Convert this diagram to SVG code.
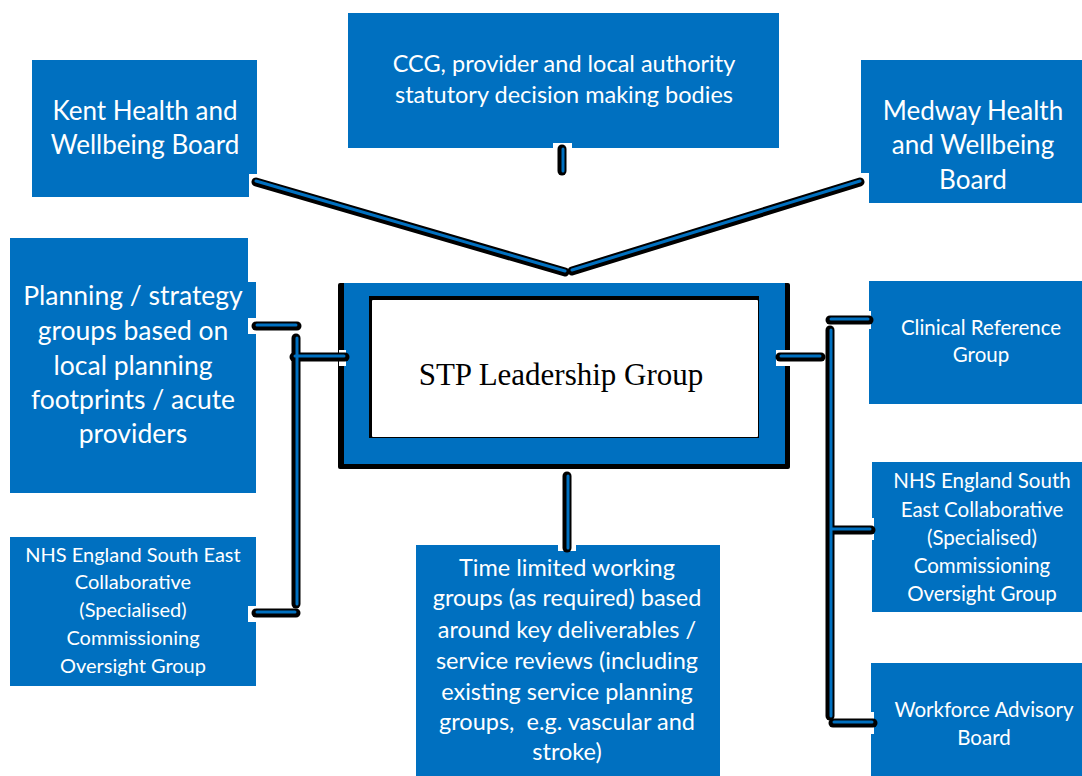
<svg xmlns="http://www.w3.org/2000/svg" width="1082" height="776" viewBox="0 0 1082 776">
<style>
.box{fill:#0070C0}
.t{font-family:Lato,"Liberation Sans",sans-serif;fill:#fff;text-anchor:middle}
.o{stroke:#000;stroke-width:9;stroke-linecap:round;fill:none}
.i{stroke:#0070C0;stroke-width:3;stroke-linecap:round;fill:none}
.w{fill:#fff}
</style>
<rect width="1082" height="776" fill="#fff"/>
<g id="kent">
<rect class="box" x="32" y="60" width="225" height="137"/>
<text class="t" font-size="26"><tspan x="145" y="120">Kent Health and</tspan><tspan x="145" y="154">Wellbeing Board</tspan></text>
</g>
<g id="ccg">
<rect class="box" x="348" y="13" width="431" height="135"/>
<text class="t" font-size="23.5"><tspan x="564" y="72">CCG, provider and local authority</tspan><tspan x="564" y="103">statutory decision making bodies</tspan></text>
</g>
<g id="medway">
<rect class="box" x="861" y="60" width="221" height="143"/>
<text class="t" font-size="26"><tspan x="973" y="120">Medway Health</tspan><tspan x="973" y="154">and Wellbeing</tspan><tspan x="973" y="189">Board</tspan></text>
</g>
<g id="planning">
<rect class="box" x="10" y="238" width="246" height="255"/>
<text class="t" font-size="26.5"><tspan x="133" y="305">Planning / strategy</tspan><tspan x="133" y="340">groups based on</tspan><tspan x="133" y="375">local planning</tspan><tspan x="133" y="409">footprints / acute</tspan><tspan x="133" y="443">providers</tspan></text>
</g>
<g id="nhs-left">
<rect class="box" x="10" y="537" width="246" height="149"/>
<text class="t" font-size="20"><tspan x="133" y="562">NHS England South East</tspan><tspan x="133" y="589">Collaborative</tspan><tspan x="133" y="617">(Specialised)</tspan><tspan x="133" y="645">Commissioning</tspan><tspan x="133" y="673">Oversight Group</tspan></text>
</g>
<g id="stp">
<rect x="338" y="283" width="452" height="186" rx="2" fill="#000"/>
<rect class="box" x="344" y="283" width="441" height="181"/>
<rect x="369" y="296" width="390" height="142" fill="#000"/>
<rect x="372" y="300" width="386" height="137" rx="1" fill="#fff"/>
<text x="561" y="385" font-family="'Liberation Serif',serif" font-size="31" text-anchor="middle" fill="#000">STP Leadership Group</text>
</g>
<g id="time-limited">
<rect class="box" x="416" y="545" width="304" height="231"/>
<text class="t" font-size="23.5"><tspan x="567" y="576">Time limited working</tspan><tspan x="567" y="606">groups (as required) based</tspan><tspan x="567" y="638">around key deliverables /</tspan><tspan x="567" y="669">service reviews (including</tspan><tspan x="567" y="700">existing service planning</tspan><tspan x="567" y="730">groups,&#160; e.g. vascular and</tspan><tspan x="567" y="760">stroke)</tspan></text>
</g>
<g id="clinical">
<rect class="box" x="869" y="281" width="213" height="123"/>
<text class="t" font-size="20.5"><tspan x="981" y="335">Clinical Reference</tspan><tspan x="981" y="362">Group</tspan></text>
</g>
<g id="nhs-right">
<rect class="box" x="872" y="462" width="210" height="150"/>
<text class="t" font-size="20.5"><tspan x="982" y="488">NHS England South</tspan><tspan x="982" y="517">East Collaborative</tspan><tspan x="982" y="545">(Specialised)</tspan><tspan x="982" y="573">Commissioning</tspan><tspan x="982" y="601">Oversight Group</tspan></text>
</g>
<g id="workforce">
<rect class="box" x="871" y="663" width="211" height="113"/>
<text class="t" font-size="20.5"><tspan x="984" y="717">Workforce Advisory</tspan><tspan x="984" y="745">Board</tspan></text>
</g>
<g id="connectors">
<rect class="w" x="249" y="174" width="8" height="23"/>
<rect class="w" x="850" y="173" width="19" height="30"/>
<rect class="w" x="248" y="238" width="8" height="44"/>
<rect class="w" x="248" y="318" width="8" height="16"/>
<rect class="w" x="248" y="606" width="8" height="16"/>
<rect class="w" x="861" y="311" width="10" height="18"/>
<rect class="w" x="866" y="518" width="8" height="22"/>
<rect class="w" x="866" y="712" width="8" height="22"/>
<rect class="w" x="339" y="350" width="7" height="16"/>
<rect class="w" x="776" y="350" width="14" height="16"/>
<rect class="w" x="553" y="143" width="19" height="6"/>
<rect class="w" x="558" y="545" width="18" height="6"/>
<g class="o">
<path d="M256 182 L565 272"/>
<path d="M572 271 L860 182"/>
<path d="M562 149 L562 171"/>
<path d="M256 326 L297 326"/>
<path d="M296 338 L296 604"/>
<path d="M294 357 L345 357"/>
<path d="M256 613 L296 613"/>
<path d="M780 357 L821 357"/>
<path d="M830 320 L869 320"/>
<path d="M830 330 L830 716"/>
<path d="M831 530 L871 530"/>
<path d="M833 723 L873 723"/>
<path d="M567 476 L567 548"/>
</g>
<g class="i">
<path d="M256 181 L565 271"/>
<path d="M572 270 L860 181"/>
<path d="M563 149 L563 171"/>
<path d="M257 325 L296 325"/>
<path d="M297 338 L297 604"/>
<path d="M295 356 L344 356"/>
<path d="M257 612 L295 612"/>
<path d="M781 356 L820 356"/>
<path d="M831 319 L868 319"/>
<path d="M831 330 L831 716"/>
<path d="M832 529 L870 529"/>
<path d="M834 722 L872 722"/>
<path d="M568 476 L568 548"/>
</g>
</g>
</svg>
